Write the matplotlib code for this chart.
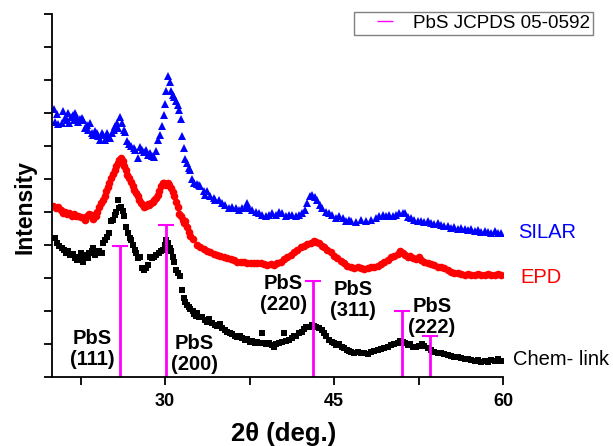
import numpy as np
import matplotlib.pyplot as plt
from matplotlib.lines import Line2D
from matplotlib.ticker import MultipleLocator

plt.rcParams['font.family'] = ['Liberation Sans', 'DejaVu Sans']

# SILAR (blue triangles)
silar_x = [20.13, 20.22, 20.37, 20.52, 20.82, 20.96, 21.11, 21.26, 21.41, 21.50, 21.62, 21.80,
           21.91, 22.00, 22.15, 22.30, 22.45, 22.60, 22.75, 22.89, 23.04, 23.19, 23.34, 23.49,
           23.64, 23.78, 23.93, 24.08, 24.23, 24.38, 24.53, 24.67, 24.82, 24.97, 25.12, 25.27,
           25.42, 25.56, 25.71, 25.86, 26.01, 26.16, 26.31, 26.45, 26.60, 26.81, 26.99, 27.20,
           27.37, 27.55, 27.73, 27.94, 28.15, 28.32, 28.47, 28.68, 28.86, 29.04, 29.21, 29.36,
           29.57, 29.72, 29.87, 30.02, 30.11, 30.26, 30.40, 30.52, 30.67, 30.82, 30.97, 31.15,
           31.26, 31.41, 31.50, 31.65, 31.80, 31.95, 32.09, 32.24, 32.39, 32.60, 32.84, 33.04,
           33.13, 33.43, 33.58, 33.73, 34.02, 34.32, 34.47, 34.77, 35.06, 35.36, 35.66, 35.95,
           36.25, 36.55, 36.84, 37.14, 37.29, 37.44, 37.73, 38.03, 38.33, 38.62, 38.92, 39.22,
           39.52, 39.81, 40.11, 40.41, 40.70, 41.00, 41.30, 41.59, 41.89, 42.19, 42.42, 42.63,
           42.84, 43.08, 43.32, 43.52, 43.73, 43.97, 44.26, 44.56, 44.86, 45.16, 45.45, 45.75,
           46.05, 46.34, 46.49, 46.94, 47.38, 47.83, 48.27, 48.72, 49.01, 49.31, 49.61, 49.90,
           50.20, 50.50, 50.80, 51.09, 51.33, 51.54, 51.83, 52.13, 52.43, 52.72, 53.02, 53.32,
           53.62, 53.91, 54.21, 54.51, 54.80, 55.10, 55.40, 55.69, 55.99, 56.29, 56.58, 56.88,
           57.18, 57.47, 57.77, 58.07, 58.36, 58.66, 58.96, 59.25, 59.55, 59.85]
silar_y = [8.12, 7.72, 7.96, 7.67, 7.69, 8.05, 7.84, 7.79, 7.99, 7.71, 7.89, 7.94,
           7.79, 7.99, 7.84, 7.74, 7.81, 7.84, 7.79, 7.54, 7.64, 7.49, 7.69, 7.39,
           7.34, 7.44, 7.39, 7.29, 7.19, 7.39, 7.34, 7.17, 7.39, 7.29, 7.24, 7.39,
           7.49, 7.59, 7.69, 7.54, 7.87, 7.69, 7.49, 7.41, 7.14, 7.06, 7.00, 6.93,
           6.88, 6.63, 6.98, 6.88, 6.83, 6.88, 6.73, 6.80, 6.70, 6.66, 6.86, 7.19,
           7.34, 7.59, 7.94, 8.28, 8.68, 9.11, 8.93, 8.68, 8.55, 8.50, 8.35, 8.25,
           8.10, 7.81, 7.29, 6.93, 6.60, 6.48, 6.33, 6.27, 5.99, 5.89, 5.85, 5.82,
           5.77, 5.62, 5.52, 5.62, 5.47, 5.41, 5.36, 5.36, 5.26, 5.21, 5.11, 5.16,
           5.11, 5.06, 5.11, 5.16, 5.26, 5.11, 5.06, 5.01, 4.96, 4.91, 4.86, 4.91,
           4.96, 4.91, 5.01, 4.96, 4.86, 4.91, 4.91, 4.86, 4.91, 4.96, 5.06, 5.26,
           5.47, 5.52, 5.45, 5.36, 5.21, 5.11, 5.01, 4.96, 4.91, 4.81, 4.86, 4.81,
           4.71, 4.76, 4.71, 4.68, 4.74, 4.71, 4.76, 4.81, 4.86, 4.91, 4.88, 4.91,
           4.88, 4.91, 4.96, 4.98, 4.96, 4.84, 4.81, 4.74, 4.71, 4.71, 4.68, 4.71,
           4.66, 4.64, 4.66, 4.61, 4.58, 4.56, 4.50, 4.53, 4.47, 4.50, 4.47, 4.45,
           4.47, 4.43, 4.45, 4.40, 4.43, 4.40, 4.37, 4.43, 4.35, 4.37]

# EPD (red circles)
epd_x = [20.07, 20.31, 20.52, 20.73, 20.91, 21.11, 21.32, 21.50, 21.71, 21.91, 22.09, 22.30,
         22.51, 22.76, 22.89, 23.10, 23.28, 23.49, 23.64, 23.84, 23.99, 24.17, 24.32, 24.47,
         24.62, 24.76, 24.91, 25.06, 25.21, 25.36, 25.51, 25.65, 25.80, 25.95, 26.07, 26.22,
         26.37, 26.51, 26.66, 26.81, 26.96, 27.11, 27.26, 27.41, 27.55, 27.70, 27.85, 28.00,
         28.15, 28.30, 28.44, 28.59, 28.74, 28.89, 29.04, 29.19, 29.33, 29.48, 29.63, 29.78,
         29.93, 30.08, 30.23, 30.37, 30.52, 30.67, 30.82, 30.97, 31.12, 31.26, 31.41, 31.56,
         31.71, 31.80, 31.95, 32.09, 32.24, 32.48, 32.84, 33.13, 33.43, 33.73, 34.02, 34.32,
         34.62, 34.91, 35.21, 35.51, 35.81, 36.10, 36.40, 36.70, 36.99, 37.29, 37.59, 37.88,
         38.18, 38.48, 38.77, 39.07, 39.37, 39.66, 39.96, 40.26, 40.55, 40.85, 41.15, 41.45,
         41.74, 42.04, 42.34, 42.63, 42.93, 43.23, 43.43, 43.67, 43.91, 44.12, 44.41, 44.71,
         45.01, 45.30, 45.60, 45.90, 46.19, 46.49, 46.79, 47.09, 47.38, 47.68, 47.98, 48.27,
         48.57, 48.87, 49.16, 49.46, 49.76, 50.05, 50.35, 50.65, 50.85, 51.09, 51.33, 51.54,
         51.75, 51.98, 52.28, 52.52, 52.72, 53.02, 53.32, 53.62, 53.91, 54.21, 54.51, 54.80,
         55.10, 55.40, 55.69, 55.99, 56.29, 56.58, 56.88, 57.18, 57.47, 57.77, 58.07, 58.36,
         58.66, 58.96, 59.25, 59.55, 59.85]
epd_y = [5.18, 5.11, 5.14, 5.06, 4.98, 5.01, 4.94, 4.96, 4.88, 4.94, 4.86, 4.88,
         4.84, 4.81, 4.76, 4.86, 4.94, 4.91, 4.78, 4.86, 5.01, 5.16, 5.26, 5.36,
         5.49, 5.62, 5.75, 5.87, 6.02, 6.15, 6.27, 6.38, 6.48, 6.58, 6.63, 6.53,
         6.38, 6.27, 6.12, 6.02, 5.92, 5.77, 5.67, 5.57, 5.47, 5.36, 5.28, 5.21,
         5.14, 5.18, 5.24, 5.21, 5.28, 5.31, 5.36, 5.41, 5.52, 5.62, 5.77, 5.89,
         5.87, 5.82, 5.89, 5.82, 5.72, 5.59, 5.47, 5.31, 5.16, 4.94, 4.86, 4.76,
         4.66, 4.71, 4.55, 4.40, 4.27, 4.17, 4.00, 3.93, 3.87, 3.82, 3.77, 3.73,
         3.69, 3.66, 3.62, 3.59, 3.56, 3.54, 3.49, 3.47, 3.49, 3.46, 3.46, 3.44,
         3.46, 3.44, 3.42, 3.39, 3.41, 3.39, 3.44, 3.49, 3.56, 3.64, 3.69, 3.77,
         3.85, 3.93, 3.97, 4.03, 4.07, 4.13, 4.10, 4.05, 3.97, 3.93, 3.85, 3.77,
         3.66, 3.59, 3.52, 3.46, 3.36, 3.32, 3.29, 3.32, 3.29, 3.26, 3.29, 3.32,
         3.32, 3.36, 3.42, 3.49, 3.54, 3.62, 3.66, 3.72, 3.80, 3.75, 3.70, 3.62,
         3.66, 3.59, 3.56, 3.62, 3.54, 3.49, 3.46, 3.42, 3.39, 3.34, 3.32, 3.29,
         3.24, 3.19, 3.16, 3.14, 3.12, 3.09, 3.12, 3.09, 3.09, 3.12, 3.09, 3.09,
         3.11, 3.09, 3.09, 3.11, 3.09]

# Chem- link (black squares)
chem_x = [20.22, 20.43, 20.61, 20.82, 21.02, 21.20, 21.41, 21.56, 21.80, 22.00, 22.21, 22.39,
          22.51, 22.69, 22.83, 22.98, 23.13, 23.28, 23.49, 23.64, 23.78, 23.93, 24.17, 24.38,
          24.53, 24.67, 24.88, 25.06, 25.21, 25.36, 25.51, 25.65, 25.80, 25.95, 26.10, 26.25,
          26.37, 26.54, 26.69, 26.84, 26.99, 27.14, 27.29, 27.44, 27.58, 27.73, 27.94, 28.15,
          28.32, 28.47, 28.62, 28.83, 29.04, 29.22, 29.42, 29.63, 29.81, 29.96, 30.11, 30.26,
          30.40, 30.52, 30.67, 30.82, 30.97, 31.15, 31.29, 31.50, 31.65, 31.80, 31.95, 32.09,
          32.24, 32.45, 32.60, 32.75, 32.84, 33.04, 33.28, 33.52, 33.73, 33.94, 34.17, 34.41,
          34.62, 34.83, 35.06, 35.30, 35.51, 35.72, 35.95, 36.19, 36.40, 36.61, 36.84, 37.08,
          37.29, 37.50, 37.73, 37.97, 38.18, 38.39, 38.57, 38.77, 38.98, 39.22, 39.46, 39.66,
          39.87, 40.11, 40.35, 40.55, 40.76, 41.00, 41.24, 41.45, 41.65, 41.89, 42.13, 42.34,
          42.54, 42.78, 43.02, 43.23, 43.43, 43.67, 43.91, 44.12, 44.32, 44.56, 44.80, 45.01,
          45.21, 45.45, 45.69, 45.90, 46.11, 46.34, 46.49, 46.79, 47.09, 47.38, 47.68, 47.98,
          48.27, 48.57, 48.87, 49.16, 49.46, 49.76, 50.05, 50.35, 50.65, 50.85, 51.09, 51.33,
          51.54, 51.75, 51.98, 52.28, 52.58, 52.81, 53.02, 53.32, 53.62, 53.91, 54.21, 54.51,
          54.80, 55.10, 55.40, 55.69, 55.99, 56.29, 56.58, 56.88, 57.18, 57.47, 57.77, 58.07,
          58.36, 58.66, 58.96, 59.25, 59.55, 59.85]
chem_y = [4.20, 4.05, 3.97, 3.90, 3.83, 3.74, 3.80, 3.69, 3.73, 3.59, 3.54, 3.64,
          3.74, 3.49, 3.59, 3.69, 3.59, 3.74, 3.80, 3.90, 3.69, 3.74, 3.80, 3.74,
          4.05, 4.15, 4.25, 4.35, 4.71, 4.76, 4.91, 5.01, 5.36, 5.11, 5.16, 5.04,
          4.86, 4.55, 4.35, 4.20, 4.15, 4.00, 3.85, 3.74, 3.59, 3.64, 3.29, 3.24,
          3.29, 3.39, 3.64, 3.59, 3.64, 3.69, 3.74, 3.80, 3.85, 4.00, 4.15, 4.05,
          3.90, 3.80, 3.64, 3.49, 3.24, 3.14, 3.04, 2.63, 2.38, 2.28, 2.18, 2.11,
          2.05, 1.98, 1.90, 1.84, 1.92, 1.82, 1.80, 1.72, 1.67, 1.74, 1.62, 1.57,
          1.54, 1.60, 1.47, 1.42, 1.37, 1.32, 1.30, 1.24, 1.20, 1.22, 1.17, 1.11,
          1.14, 1.06, 1.09, 1.03, 1.06, 1.01, 1.34, 1.03, 0.99, 1.01, 0.96, 0.91,
          0.99, 1.01, 1.06, 1.34, 1.09, 1.11, 1.17, 1.22, 1.24, 1.32, 1.37, 1.44,
          1.52, 1.50, 1.57, 1.54, 1.52, 1.47, 1.42, 1.32, 1.24, 1.11, 1.06, 1.01,
          0.96, 0.99, 0.91, 0.86, 0.81, 0.79, 0.76, 0.73, 0.76, 0.71, 0.73, 0.69,
          0.76, 0.79, 0.81, 0.83, 0.86, 0.91, 0.96, 0.99, 1.03, 1.09, 1.06, 1.01,
          0.96, 0.99, 0.91, 0.89, 0.93, 0.99, 0.93, 0.86, 0.81, 0.76, 0.73, 0.71,
          0.69, 0.66, 0.63, 0.61, 0.59, 0.56, 0.53, 0.55, 0.51, 0.49, 0.51, 0.46,
          0.49, 0.46, 0.51, 0.49, 0.53, 0.49]

# PbS JCPDS 05-0592 reference lines
ref_pos = [26.0, 30.07, 43.1, 51.05, 53.5]
ref_h = [3.97, 4.6, 2.89, 2.0, 1.23]
ref_lab = ['PbS\n(111)', 'PbS\n(200)', 'PbS\n(220)', 'PbS\n(311)', 'PbS\n(222)']
lab_x = [23.56, 32.6, 40.5, 46.7, 53.7]
lab_y = [0.84, 0.69, 2.51, 2.33, 1.81]

names = ['SILAR', 'EPD', 'Chem- link']
name_col = ['#0000ff', '#ff0000', '#000000']
name_x = [61.3, 61.5, 60.9]
name_y = [4.36, 3.0, 0.51]

fig = plt.figure(figsize=(6.13, 4.46), dpi=100)
ax = fig.add_axes([0.0856, 0.1554, 0.735, 0.813])

ax.plot(silar_x, silar_y, '^', color='#0000ff', markersize=6, markeredgewidth=0)
ax.plot(epd_x, epd_y, 'o', color='#ff0000', markersize=5.5, markeredgewidth=0)
ax.plot(chem_x, chem_y, 's', color='#000000', markersize=4.5, markeredgewidth=0)

ax.vlines(ref_pos, 0, ref_h, color='#ff00ff', linewidth=2)
ax.plot(ref_pos, ref_h, '_', color='#ff00ff', markersize=11, markeredgewidth=1.5)

for t, x, y in zip(ref_lab, lab_x, lab_y):
    ax.text(x, y, t, fontsize=14.5, fontweight='bold', ha='center', va='center', linespacing=1.15)

for n, c, x, y in zip(names, name_col, name_x, name_y):
    ax.text(x, y, n, fontsize=14.5, color=c, ha='left', va='center', clip_on=False)

ax.set_xlim(20, 60)
ax.set_ylim(0, 11)
ax.xaxis.set_major_locator(MultipleLocator(15))
ax.xaxis.set_minor_locator(MultipleLocator(7.5))
ax.yaxis.set_major_locator(MultipleLocator(1))
ax.spines['top'].set_visible(False)
ax.spines['right'].set_visible(False)
for s in ['left', 'bottom']:
    ax.spines[s].set_linewidth(1.3)
ax.tick_params(axis='both', which='both', direction='out', width=1.3, length=6)
ax.tick_params(axis='x', pad=6)
ax.tick_params(axis='y', labelleft=False)
for lab in ax.get_xticklabels():
    lab.set_fontweight('bold')
    lab.set_fontsize(13)

ax.set_xlabel('2θ (deg.)', fontsize=18.5, fontweight='bold', va='center')
ax.xaxis.set_label_coords(0.513, -0.158)
ax.set_ylabel('Intensity', fontsize=16.5, fontweight='bold', va='center')
ax.yaxis.set_label_coords(-0.061, 0.468)

# legend handle: short magenta dash sitting well inside the box
h = Line2D([], [], color='#ff00ff', marker='_', markersize=11, markeredgewidth=1,
           linestyle='None')
leg = fig.legend([h], ['PbS JCPDS 05-0592'], loc='upper right',
                 bbox_to_anchor=(593 / 613, 1 - 12 / 446), borderaxespad=0, fontsize=13.6,
                 fancybox=False, edgecolor='#808080', framealpha=1,
                 handlelength=3.0, borderpad=0.15, handletextpad=0.0)
leg.get_frame().set_linewidth(1)

fig.savefig('out.png', dpi=100)
